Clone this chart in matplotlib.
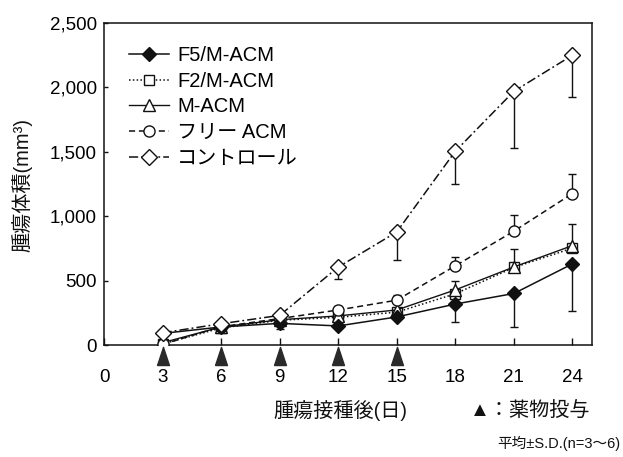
import matplotlib
matplotlib.use("Agg")
import matplotlib.pyplot as plt
import numpy as np

plt.rcParams['font.family'] = ['Liberation Sans', 'Noto Sans CJK JP']

days = [3, 6, 9, 12, 15, 18, 21, 24]
drug_days = [3, 6, 9, 12, 15]

f5_mean = [90, 140, 168, 148, 218, 318, 400, 630]
f5_err_low = [0, 0, 42, 0, 0, 137, 258, 366]

f2_mean = [8, 132, 192, 215, 255, 398, 602, 752]

macm_mean = [18, 140, 196, 226, 272, 428, 606, 772]
macm_err_up = [0, 0, 0, 0, 0, 72, 140, 168]

free_mean = [5, 142, 205, 272, 348, 615, 884, 1176]
free_err_up = [0, 0, 0, 32, 42, 66, 125, 152]

ctrl_mean = [95, 165, 230, 605, 878, 1505, 1970, 2250]
ctrl_err_low = [0, 0, 0, 93, 218, 255, 440, 325]

yticks = [0, 500, 1000, 1500, 2000, 2500]
ytick_labels = ['0', '500', '1,000', '1,500', '2,000', '2,500']
xticks = [0, 3, 6, 9, 12, 15, 18, 21, 24]

labels = ['F5/M-ACM', 'F2/M-ACM', 'M-ACM', 'フリー ACM', 'コントロール']

K = '#111111'
W, H = 623, 457
fig = plt.figure(figsize=(W / 100, H / 100), dpi=100)
ax = fig.add_axes([104 / W, 1 - 345 / H, 488 / W, 322 / H])

lw = 1.1
z = np.zeros(len(days))

# error bars (one-sided)
eb = dict(fmt='none', ecolor=K, elinewidth=1.0, capsize=3, capthick=1.0, zorder=2)
ax.errorbar(days, f5_mean, yerr=[f5_err_low, z], **eb)
ax.errorbar(days, macm_mean, yerr=[z, macm_err_up], **eb)
ax.errorbar(days, free_mean, yerr=[z, free_err_up], **eb)
ax.errorbar(days, ctrl_mean, yerr=[ctrl_err_low, z], **eb)

h1, = ax.plot(days, f5_mean, color=K, lw=lw, ls='-', marker='D', ms=7, mfc=K, mec=K, zorder=4, label=labels[0])
h2, = ax.plot(days, f2_mean, color=K, lw=lw, ls=(0, (1, 1.5)), marker='s', ms=7.5, mfc='white', mec=K, mew=1.0, zorder=3, label=labels[1])
h3, = ax.plot(days, macm_mean, color=K, lw=lw * 0.9, ls='-', marker='^', ms=9, mfc='white', mec=K, mew=1.0, zorder=3, label=labels[2])
h4, = ax.plot(days, free_mean, color=K, lw=lw, ls=(0, (4, 2.5)), marker='o', ms=8, mfc='white', mec=K, mew=1.0, zorder=3, label=labels[3])
h5, = ax.plot(days, ctrl_mean, color=K, lw=lw, ls=(0, (6, 2, 1.2, 2)), marker='D', ms=8.5, mfc='white', mec=K, mew=1.0, zorder=5, label=labels[4])

# drug administration triangles
tri = [(-0.33, -0.5), (0.33, -0.5), (0, 0.5), (-0.33, -0.5)]
ax.plot(drug_days, [-85] * len(drug_days), ls='none', marker=tri, ms=13, color='#2a2a2a', clip_on=False, zorder=6)

ax.set_xlim(0, 25)
ax.set_ylim(0, 2500)
ax.set_xticks(xticks)
ax.set_xticklabels([str(v) for v in xticks])
ax.set_yticks(yticks)
ax.set_yticklabels(ytick_labels)
ax.tick_params(axis='both', direction='in', labelsize=13.5, color=K, width=1.0)
ax.tick_params(axis='x', length=5, pad=17)
ax.tick_params(axis='y', length=3, pad=5)
for s in ax.spines.values():
    s.set_linewidth(1.1)
    s.set_color(K)

leg = ax.legend(handles=[h1, h2, h3, h4, h5], loc='upper left',
                bbox_to_anchor=((129 - 104) / 488, (345 - 46) / 322),
                frameon=False, fontsize=14.5, handlelength=2.0, handletextpad=0.4,
                labelspacing=0.33, borderpad=0, borderaxespad=0)

fig.text(22 / W, 1 - 185 / H, '腫瘍体積(mm³)', rotation=90, ha='center', va='center', fontsize=14.5, color=K)
fig.text(340 / W, 1 - 411 / H, '腫瘍接種後(日)', ha='center', va='center', fontsize=14.5, color=K)
fig.text(470 / W, 1 - 411 / H, '▲：薬物投与', ha='left', va='center', fontsize=14.5, color=K)
fig.text(497 / W, 1 - 443 / H, '平均±S.D.(n=3〜6)', ha='left', va='center', fontsize=10.5, color=K)

fig.savefig('out.png', dpi=100)
